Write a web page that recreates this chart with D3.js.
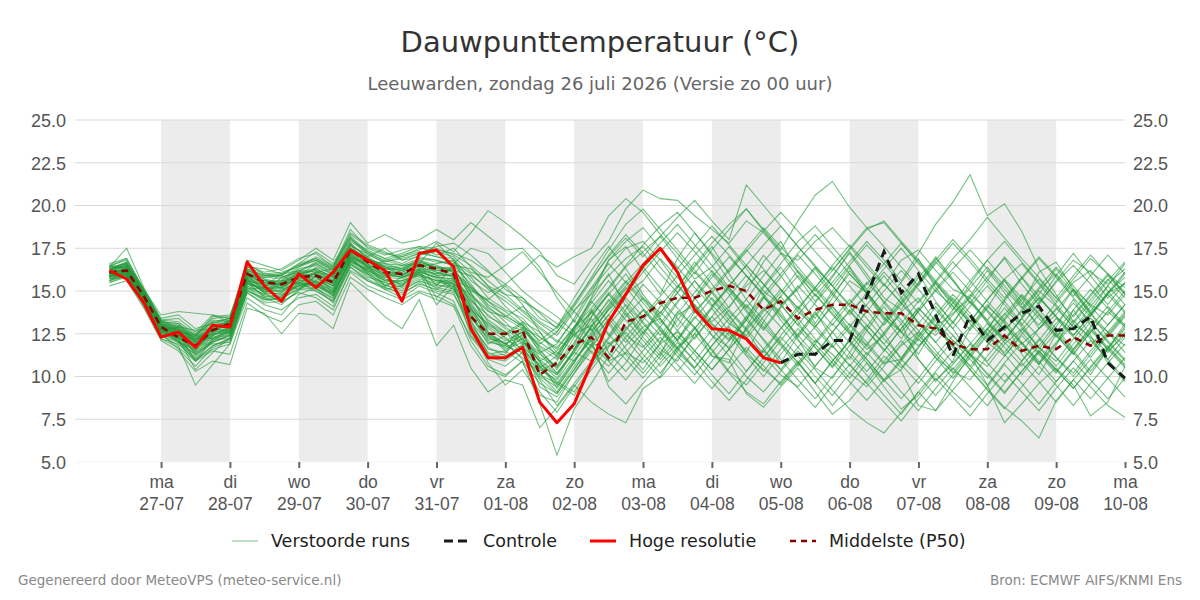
<!DOCTYPE html>
<html>
<head>
<meta charset="utf-8">
<script src="https://cdn.jsdelivr.net/npm/d3@7"></script>
<style>
  body { margin: 0; background: #fff; font-family: "DejaVu Sans", sans-serif; }
</style>
</head>
<body>
<div id="chart"></div>
<script>
// Tijdas: 6-uurlijkse stappen vanaf zo 26-07 06:00
const startTime = new Date(2026, 6, 26, 6);
const stepHours = 6;

const dayNames = ["zo", "ma", "di", "wo", "do", "vr", "za"];
const yTicks = [5, 7.5, 10, 12.5, 15, 17.5, 20, 22.5, 25];
const shadedDays = ["2026-07-27", "2026-07-29", "2026-07-31", "2026-08-02", "2026-08-04", "2026-08-06", "2026-08-08"];

// Hoge resolutie (tot 05-08 00:00)
const hoogRes = [16.2,15.7,14.3,12.3,12.6,11.7,13.0,12.9,16.7,15.3, 14.4,16.0,15.2,16.1,17.4,16.8,16.2,14.4,17.2,17.4,
  16.4,12.8,11.1,11.1,11.7,8.5,7.3,8.4,10.8,13.2, 14.8,16.5,17.5,16.1,13.9,12.8,12.7,12.2,11.1,10.8];

// Controle (zichtbaar vanaf 05-08 00:00)
const controle = [null,null,null,null,null,null,null,null,null,null, null,null,null,null,null,null,null,null,null,null,
  null,null,null,null,null,null,null,null,null,null, null,null,null,null,null,null,null,null,null,10.8,
  11.3,11.3,12.1,12.1,14.7,17.3,14.9,16.0,13.6,11.2, 13.6,12.1,12.9,13.7,14.1,12.7,12.8,13.5,10.8,9.9];

// Middelste (P50)
const mediaan = [16.1,16.2,14.7,12.9,12.3,11.8,12.7,13.1,16.0,15.5, 15.4,15.8,15.9,15.5,17.4,16.7,16.1,16.0,16.5,16.3,
  16.0,13.5,12.5,12.5,12.7,10.1,10.8,11.9,12.3,11.1, 13.2,13.5,14.3,14.6,14.6,15.0,15.3,15.0,13.9,14.4,
  13.4,13.9,14.2,14.2,13.8,13.7,13.7,13.0,12.8,11.9, 11.6,11.6,12.4,11.5,11.8,11.6,12.3,11.8,12.4,12.4];

// Verstoorde runs (ensembleleden)
const leden = [
  [16.3,16.6,14.8,13.1,12.6,12.0,12.9,13.2,16.2,15.7,15.1,15.9,16.3,15.8,17.8,16.9,16.4,16.2,16.8,16.5,16.1,14.2,12.8,12.1,12.6,10.4,9.8,11.2,12.6,13.9,14.8,15.6,16.9,15.8,14.6,13.2,14.1,15.3,16.2,15.1,13.8,12.9,14.2,15.6,14.9,13.4,12.6,11.8,12.9,13.7,14.6,13.1,12.2,11.4,12.8,13.9,15.1,14.2,13.6,14.8],
  [15.9,16.0,14.4,12.6,12.9,11.2,12.1,12.7,15.6,15.0,14.8,15.3,15.6,15.2,17.1,16.4,15.7,15.4,16.1,15.8,15.2,12.9,11.4,11.0,11.9,9.4,8.8,10.2,11.5,10.6,11.8,12.9,13.4,12.1,13.8,14.9,13.6,12.2,11.4,12.8,13.9,15.2,14.1,12.7,11.6,12.4,13.8,14.6,13.2,12.1,11.3,10.6,11.9,12.8,11.7,10.9,12.2,13.4,12.6,11.8],
  [16.4,16.9,15.0,13.3,13.2,12.5,13.4,13.5,16.6,16.0,16.1,16.4,17.0,16.5,18.1,17.2,16.8,17.1,17.4,17.9,17.3,18.4,19.7,19.0,18.2,17.3,15.9,15.4,16.8,17.9,19.8,20.9,20.4,20.3,19.4,18.6,17.8,19.1,18.4,17.2,16.8,17.9,18.7,17.6,16.4,15.3,16.8,17.4,16.2,15.1,14.6,15.8,16.9,15.4,14.2,15.6,16.8,16.1,15.4,16.3],
  [16.0,15.8,14.2,12.4,11.8,9.5,10.7,11.9,14.6,13.9,13.6,14.8,15.2,14.3,16.4,15.6,15.1,14.6,15.3,14.9,14.4,12.1,10.6,10.1,10.9,8.4,5.4,8.1,9.6,11.2,12.8,13.9,12.7,11.4,10.5,11.8,12.9,11.3,10.4,9.6,10.8,12.1,11.3,10.2,9.4,10.6,11.8,12.6,11.1,10.3,9.8,11.2,12.4,11.6,10.7,11.9,13.1,12.3,11.4,12.6],
  [15.6,16.2,14.5,12.8,12.1,11.5,12.3,12.4,15.3,14.8,15.6,16.2,15.4,14.8,16.9,16.1,15.3,15.6,16.0,15.1,15.7,13.6,11.9,12.4,13.1,11.6,10.4,11.9,13.8,15.1,16.4,17.3,18.2,16.9,15.7,16.4,17.6,16.3,15.0,14.2,15.1,16.3,14.9,13.8,14.7,15.9,14.6,13.1,12.4,13.6,14.8,13.9,12.7,13.8,15.0,14.1,12.9,13.7,14.9,15.4],
  [16.2,16.4,14.9,13.0,12.4,12.2,12.6,13.3,16.0,15.8,15.9,15.4,16.1,15.9,17.6,17.2,16.6,16.5,16.9,16.8,16.5,15.4,14.1,13.2,12.1,10.9,9.3,10.8,12.4,13.6,12.4,11.7,12.9,14.3,15.6,14.2,13.1,12.4,13.8,14.9,16.2,15.1,13.9,12.6,11.8,13.2,14.4,15.8,16.9,15.6,14.3,13.2,12.1,13.4,14.6,13.5,12.7,14.1,15.3,14.2],
  [16.5,16.8,15.1,13.4,13.6,12.8,13.1,13.4,16.4,16.3,16.0,16.5,16.8,16.3,18.4,17.7,17.3,16.8,17.2,17.6,17.8,17.1,16.2,15.1,14.4,13.8,13.1,12.4,11.8,10.9,11.4,10.8,11.9,12.6,11.5,10.4,11.6,12.7,11.2,10.1,9.4,10.6,11.8,10.7,9.6,10.9,12.1,11.0,9.8,10.7,11.9,10.8,9.7,10.9,12.2,11.1,10.2,11.5,12.6,11.4],
  [15.8,15.9,14.3,12.5,12.3,11.6,12.8,12.6,15.8,15.1,15.2,15.9,15.8,15.1,17.0,16.6,16.0,15.8,16.2,16.0,16.3,13.1,11.6,11.4,12.3,10.2,9.1,10.6,11.9,9.7,10.8,12.4,14.1,15.3,14.2,13.1,12.2,13.5,14.7,13.3,12.1,11.2,12.6,13.9,12.7,11.6,10.5,11.7,13.0,14.3,13.1,12.0,11.2,12.5,13.6,12.4,11.3,12.6,13.8,12.9],
  [16.1,16.3,14.7,13.2,12.7,12.1,12.9,13.1,15.5,14.6,14.2,15.1,15.6,14.7,16.8,16.2,15.8,16.1,16.5,15.9,15.4,14.8,13.9,12.9,12.2,11.4,11.9,13.4,15.1,16.3,17.5,17.9,16.8,15.4,14.1,13.0,12.1,13.3,14.6,15.8,17.1,16.0,14.8,13.6,14.9,16.1,15.0,13.7,12.6,13.9,15.2,16.4,15.3,14.1,13.0,14.3,15.5,16.2,15.0,13.8],
  [15.7,16.1,14.6,12.7,12.2,10.4,11.4,12.3,15.1,14.4,14.6,15.5,15.0,14.4,16.6,15.8,15.5,15.2,15.7,15.4,15.8,13.4,12.3,11.8,11.4,9.8,8.3,9.6,10.9,11.8,12.6,11.3,10.2,11.5,12.8,11.6,10.3,9.5,10.8,12.1,13.4,12.2,11.0,9.9,11.2,12.5,13.7,12.4,11.3,10.2,11.5,12.8,14.0,12.9,11.7,10.6,11.9,13.2,12.1,11.0],
  [16.3,16.5,14.9,13.0,12.5,11.8,12.4,12.9,16.1,15.6,15.3,15.8,16.0,15.6,17.4,16.8,16.2,15.9,16.6,16.1,15.9,14.5,13.3,12.6,11.9,10.6,9.6,8.9,10.4,11.7,12.9,11.8,10.6,11.7,12.9,11.5,10.2,9.1,8.4,9.7,10.9,9.6,8.3,9.5,10.8,9.4,8.1,8.9,10.2,9.1,8.2,9.4,10.7,9.6,8.4,9.7,10.9,9.8,8.7,9.9],
  [16.0,16.2,14.5,12.9,12.8,12.4,13.2,13.0,15.9,15.5,15.6,15.7,16.4,16.0,17.5,16.9,16.5,16.3,16.7,16.4,16.2,15.9,15.2,14.6,13.8,12.9,12.1,11.6,12.9,14.2,15.5,16.6,17.8,18.9,17.7,16.5,15.2,14.0,15.3,16.6,17.9,18.8,17.6,16.4,15.1,16.3,17.5,16.2,15.0,14.1,13.2,14.5,15.7,16.6,15.4,14.2,13.1,14.3,15.6,16.7],
  [15.9,16.0,14.4,12.8,12.0,11.3,12.0,12.5,15.4,15.2,14.9,15.6,15.3,14.9,16.7,16.3,15.6,15.4,15.9,15.6,15.5,14.0,12.6,11.9,12.6,11.1,10.6,12.3,13.9,12.5,11.3,10.2,11.4,12.7,13.9,12.8,11.6,10.3,11.6,12.8,14.1,13.0,11.8,10.6,11.9,13.1,14.3,13.2,12.0,10.8,11.9,13.1,12.0,10.9,12.1,13.4,12.3,11.1,12.4,13.6],
  [16.2,16.7,15.0,13.1,12.7,12.3,12.7,13.1,16.3,15.9,15.8,16.2,16.6,16.1,17.9,17.3,16.7,17.0,17.3,17.0,16.9,15.6,14.9,15.4,16.2,17.1,16.4,17.0,17.5,19.4,20.4,19.6,18.3,17.2,16.0,17.4,18.6,19.8,18.5,17.3,16.1,15.0,16.2,17.5,18.7,19.0,17.8,16.6,15.4,14.3,15.6,16.8,17.9,16.7,15.5,14.4,15.7,16.9,16.0,15.2],
  [15.5,15.9,14.2,12.2,11.9,11.0,11.6,11.9,14.9,14.2,13.9,14.6,14.8,14.1,16.1,15.3,14.9,14.5,15.0,14.7,14.2,12.3,11.1,10.9,11.7,10.9,10.1,11.6,12.8,10.9,9.8,11.1,12.3,11.2,10.1,11.4,12.6,11.5,10.3,11.6,12.8,11.7,10.5,11.8,13.0,11.9,10.7,9.6,10.9,12.1,11.0,9.9,11.2,12.4,11.3,10.2,11.5,12.7,11.6,10.5],
  [16.4,17.5,15.2,13.3,13.4,12.6,13.6,13.2,16.5,16.1,16.3,16.9,17.2,16.4,18.6,17.5,17.1,17.4,17.6,17.1,17.5,16.4,15.3,14.1,13.2,12.6,11.4,10.9,12.2,13.3,14.6,13.5,12.4,13.7,14.9,16.2,15.1,13.9,12.8,14.1,15.3,14.2,13.0,14.3,15.5,14.4,13.3,12.1,13.4,14.6,13.5,12.4,13.6,14.8,13.7,12.6,13.9,15.1,14.0,12.9],
  [15.8,16.1,14.6,12.7,12.5,10.9,12.2,12.8,15.7,14.9,14.3,15.0,15.9,15.4,17.2,16.4,15.9,15.3,16.2,15.7,15.1,13.8,12.4,11.5,10.8,9.1,7.9,9.4,10.8,12.2,13.5,14.6,13.4,12.1,10.9,12.2,13.4,14.5,13.3,12.0,10.8,9.6,10.9,12.1,11.0,9.8,8.7,9.9,11.2,12.4,11.3,10.1,9.0,10.3,11.5,10.4,9.3,10.6,11.8,10.7],
  [16.1,16.4,14.8,13.0,13.0,12.2,12.5,13.3,15.8,15.3,15.5,16.0,16.2,15.7,17.3,16.6,16.1,16.0,16.3,16.2,16.0,14.9,13.5,13.0,12.7,11.8,11.2,12.7,14.3,15.6,14.4,13.2,12.0,13.3,14.5,15.8,17.0,15.9,14.7,13.5,12.3,13.6,14.8,16.0,14.9,13.7,12.6,13.8,15.0,16.1,15.0,13.8,12.7,13.9,15.1,16.0,14.9,13.7,12.6,13.8],
  [16.0,16.3,14.7,12.9,12.3,11.7,12.4,12.8,15.6,15.0,15.0,15.6,15.7,15.3,17.0,16.5,15.9,16.2,16.4,16.6,16.8,15.2,14.0,13.4,12.8,11.9,12.6,13.9,14.8,15.9,16.9,17.6,16.4,15.2,16.5,17.8,18.9,19.8,18.6,17.4,19.1,20.6,21.4,19.9,18.7,17.6,16.4,15.3,16.6,17.8,16.7,15.5,14.4,15.7,16.9,15.8,14.6,13.5,14.8,16.0],
  [16.3,16.6,14.9,13.2,12.9,12.0,12.8,13.0,16.0,15.6,15.6,16.3,16.5,15.9,17.7,17.0,16.4,16.4,16.8,16.3,16.4,14.6,13.2,12.2,11.6,10.7,10.1,11.4,12.9,14.1,15.3,16.4,15.2,14.0,12.8,14.1,15.3,16.5,15.4,14.2,13.0,14.3,15.5,16.7,17.9,16.8,15.6,17.2,18.9,20.2,21.8,19.4,20.1,18.5,16.3,14.8,13.2,14.5,15.7,14.6],
  [15.6,16.0,14.3,12.5,11.6,10.6,11.7,12.1,14.9,14.3,14.4,14.9,14.6,13.9,16.2,15.6,15.2,14.8,15.5,15.0,14.8,13.0,11.7,11.2,11.8,10.1,9.6,11.0,12.1,9.4,8.4,9.6,10.8,12.0,10.9,9.7,8.6,9.8,11.1,12.3,11.2,10.0,8.9,10.2,11.4,10.3,9.1,8.0,9.3,10.5,9.4,8.3,9.6,10.8,9.7,8.5,9.8,11.0,9.9,8.8],
  [16.2,16.5,14.8,13.1,12.8,12.3,13.1,13.4,16.2,15.8,15.7,16.4,16.8,16.2,18.0,17.4,16.9,16.6,17.1,17.3,17.0,16.1,15.8,16.5,17.3,16.1,14.9,13.8,12.7,13.9,15.1,16.3,17.5,16.4,15.2,14.1,15.3,16.5,17.7,18.8,17.6,16.5,15.3,14.2,15.4,16.6,17.8,16.7,15.5,14.4,13.2,14.5,15.7,14.6,13.4,12.3,13.6,14.8,16.0,14.9],
  [15.9,15.9,14.5,12.7,12.4,11.4,12.2,12.7,15.5,14.7,14.7,15.4,15.5,15.0,16.8,16.2,15.6,15.6,16.0,15.6,15.6,13.3,11.3,11.5,12.5,10.8,9.9,11.6,13.5,14.9,13.8,12.6,11.4,10.3,11.5,12.7,13.9,12.8,11.6,10.4,11.7,12.9,14.1,13.0,11.8,10.7,11.9,13.1,14.3,13.2,12.0,10.9,12.1,13.4,12.3,11.1,10.0,11.3,12.5,13.7],
  [16.1,16.2,14.6,12.9,12.6,12.1,12.7,12.8,15.9,15.4,15.4,15.9,16.0,15.5,17.3,16.8,16.3,16.1,16.5,16.2,16.2,15.0,14.5,15.3,14.2,12.6,11.1,12.8,14.6,16.8,17.9,18.7,17.5,16.3,17.6,18.8,17.7,16.5,15.4,14.2,13.0,12.0,13.3,14.5,13.4,12.2,11.1,12.4,13.6,14.8,13.7,12.5,11.4,12.7,13.9,12.8,11.6,12.9,14.1,13.0],
  [15.7,15.8,14.3,12.6,12.2,11.8,12.5,12.5,15.2,14.5,14.5,15.2,15.1,14.6,16.5,16.0,15.4,15.0,15.6,15.3,15.3,12.8,10.8,9.5,10.4,8.9,8.5,10.2,11.7,13.0,14.2,13.1,11.9,10.7,9.6,10.9,12.1,13.3,12.2,11.0,9.8,8.7,10.0,11.2,10.1,8.9,7.8,9.1,10.3,11.5,10.4,9.2,8.1,9.4,10.6,9.5,8.3,9.6,10.8,9.7],
  [16.3,16.7,15.0,13.2,13.1,12.4,13.3,13.2,16.4,16.0,15.9,16.6,16.9,16.4,18.2,17.3,16.9,17.2,17.6,17.5,17.1,16.5,15.6,14.8,13.9,13.1,12.4,13.8,15.2,16.6,15.5,14.3,13.1,14.4,15.6,14.5,13.3,12.2,13.5,14.7,15.9,14.8,13.6,12.5,13.8,15.0,16.2,15.1,13.9,12.8,14.1,15.3,14.2,13.0,14.3,15.5,16.5,15.4,14.2,15.5],
  [15.9,16.1,14.5,12.8,12.2,11.1,12.0,12.4,15.3,14.8,14.9,15.5,15.3,14.8,16.8,16.1,15.6,15.6,15.9,15.5,15.4,13.5,12.2,12.0,11.0,10.3,10.9,12.6,11.4,10.2,11.4,12.6,13.8,12.7,11.5,10.4,11.6,12.8,14.0,12.9,11.7,10.6,11.9,13.1,12.0,10.8,11.0,12.3,13.5,12.4,11.2,12.5,13.7,12.6,11.4,10.3,11.6,12.8,11.7,12.9],
  [16.4,16.4,14.9,13.1,12.9,12.4,13.5,13.6,16.1,15.7,15.5,16.1,16.7,16.2,17.5,16.8,16.6,16.3,16.9,16.7,16.6,15.8,14.6,13.9,13.4,12.3,11.7,12.9,14.0,15.2,16.5,17.7,18.8,19.6,18.4,17.2,16.1,17.3,18.5,19.6,18.5,17.3,16.2,17.4,18.6,19.1,17.9,16.8,15.6,16.9,18.0,19.3,18.1,16.9,15.8,14.6,15.9,17.1,16.0,14.8],
  [15.8,16.0,14.4,12.6,12.0,11.6,12.3,12.6,15.4,15.1,15.1,15.5,15.6,15.1,17.0,16.3,15.8,15.7,16.1,15.8,15.7,14.1,12.9,12.3,11.3,9.9,9.0,10.4,11.9,13.4,12.2,11.0,9.9,11.1,12.3,13.5,12.4,11.2,10.0,11.3,12.5,13.7,12.6,11.4,10.3,11.5,12.8,14.0,12.9,11.7,10.6,11.8,13.0,11.9,10.8,12.0,13.3,12.2,11.0,12.3],
  [16.2,16.5,14.8,13.0,12.7,12.3,12.9,13.2,16.0,15.6,15.5,16.1,16.3,15.8,17.5,16.9,16.3,16.3,16.7,16.4,16.3,14.7,13.8,13.5,14.1,13.2,12.6,14.1,15.6,17.1,18.3,17.2,16.0,14.9,13.7,14.9,16.2,17.4,16.3,15.1,14.0,15.2,16.4,15.3,14.1,13.0,14.2,15.4,16.7,15.6,14.4,13.3,14.5,15.8,14.7,13.5,12.4,13.6,14.9,16.1],
  [15.6,15.9,14.3,12.4,12.0,10.9,11.8,12.2,15.0,14.6,14.6,15.3,15.2,14.5,16.6,15.9,15.3,15.1,15.6,15.2,15.0,13.9,13.1,12.6,11.5,10.6,9.7,9.1,10.6,12.0,11.0,9.9,11.2,12.4,11.3,10.1,9.0,10.3,11.5,10.4,9.3,8.2,9.5,10.7,9.6,8.5,7.4,8.7,9.9,8.8,7.7,9.0,10.2,9.1,8.0,9.3,10.5,9.4,8.3,7.6],
  [16.0,16.3,14.6,12.9,12.5,11.9,12.5,12.9,15.7,15.2,15.2,15.8,16.0,15.4,17.2,16.6,16.0,15.9,16.3,16.0,15.9,14.3,13.0,12.5,13.2,12.0,11.3,12.9,14.4,13.2,12.0,13.3,14.5,13.4,12.2,13.5,14.7,15.9,14.8,13.6,12.4,11.3,12.6,13.8,12.7,11.5,12.8,14.0,13.0,11.8,12.9,14.2,13.1,11.9,12.8,14.0,12.9,11.8,13.0,14.2],
  [16.3,16.6,15.0,13.3,12.8,12.2,13.0,13.3,16.2,15.9,15.9,16.5,16.9,16.3,18.1,17.1,16.7,16.9,17.2,17.0,16.7,16.0,15.1,14.4,13.6,12.8,12.0,13.3,12.1,11.0,12.3,13.5,14.7,15.9,17.1,18.2,17.1,15.9,14.8,16.0,17.2,18.3,17.2,16.0,14.9,13.7,12.6,13.8,15.1,16.3,17.4,16.3,15.1,14.0,15.2,16.4,15.3,14.1,13.0,14.2],
  [15.9,16.0,14.5,12.7,12.3,11.4,12.1,12.6,15.6,14.9,14.8,15.3,15.4,14.9,16.9,16.2,15.7,15.5,16.0,15.6,15.4,12.4,11.2,11.3,12.8,11.5,10.5,11.8,13.2,14.4,15.6,14.5,13.3,12.1,13.4,14.6,13.5,12.3,11.1,12.4,13.6,14.8,13.7,12.5,11.3,12.6,13.8,12.7,11.5,10.4,11.6,12.8,11.7,10.6,11.8,13.1,14.3,13.2,12.0,10.9],
  [16.1,16.3,14.7,13.0,12.6,12.0,12.7,13.0,15.8,15.3,15.3,15.8,16.1,15.6,17.4,16.7,16.2,16.0,16.4,16.1,15.8,13.7,12.1,11.7,12.2,10.5,9.5,10.9,12.3,13.6,14.9,16.1,17.3,18.4,17.3,16.1,15.0,13.8,12.7,14.0,15.2,16.4,15.3,14.1,13.0,11.9,13.1,14.4,15.6,14.5,13.3,12.2,13.4,14.7,13.6,12.4,11.3,12.6,13.8,15.0],
  [15.8,16.2,14.6,12.6,12.4,11.8,12.6,12.7,15.5,15.0,15.0,15.6,15.8,15.3,17.1,16.4,15.9,15.8,16.2,15.8,15.7,14.4,13.6,12.8,12.0,11.3,10.6,12.0,13.4,11.4,10.3,11.5,12.7,11.6,10.4,9.3,10.5,11.7,10.6,9.5,10.7,11.9,10.8,9.7,8.6,9.8,11.0,10.0,8.9,10.1,11.3,10.2,9.1,10.3,11.5,10.4,9.3,10.5,11.7,10.6],
  [16.2,16.4,14.8,12.9,12.7,12.2,12.8,13.1,16.1,15.5,15.4,16.0,16.2,15.6,17.4,16.8,16.3,16.2,16.6,16.3,16.1,15.3,14.2,13.6,12.9,12.3,11.6,12.9,13.7,14.8,13.6,12.5,13.7,14.9,16.1,15.0,13.8,12.7,13.9,15.1,14.0,12.8,11.7,12.9,14.2,15.4,14.3,13.1,12.0,13.2,14.4,13.3,12.2,13.4,14.6,13.5,12.4,13.6,14.8,13.7],
  [15.9,16.1,14.4,12.7,12.1,11.3,12.0,12.4,15.2,14.7,14.7,15.4,15.3,14.7,16.7,16.0,15.5,15.3,15.8,15.4,15.1,13.2,12.0,11.8,12.9,11.7,11.0,12.5,13.0,11.9,12.7,13.9,12.8,11.6,12.8,14.0,15.2,14.1,12.9,11.8,10.6,11.9,13.1,12.0,10.8,9.7,10.9,12.2,11.1,9.9,11.1,12.4,11.3,10.1,11.4,12.6,11.5,10.3,11.6,12.8],
  [16.4,16.6,15.0,13.2,13.0,12.4,13.2,13.4,16.3,15.9,16.0,16.6,17.3,16.6,18.3,17.6,17.2,17.0,17.5,17.4,17.2,16.8,16.1,15.4,14.6,13.7,12.8,14.2,15.8,17.4,18.9,19.8,18.6,17.4,16.2,15.1,16.3,17.5,18.7,17.6,16.4,15.2,16.5,17.7,16.6,15.4,14.3,15.5,16.8,18.0,16.9,15.7,14.6,15.8,17.0,15.9,14.7,15.9,17.1,16.0],
  [15.7,15.9,14.4,12.5,12.1,11.0,11.8,12.2,15.0,14.5,14.6,15.1,15.0,14.4,16.4,15.7,15.2,14.9,15.4,15.1,14.9,12.6,11.0,10.6,11.4,10.0,9.4,10.8,12.5,14.0,15.2,14.0,12.9,11.7,10.5,11.8,13.0,14.2,13.1,11.9,10.8,9.6,10.9,12.1,11.0,9.8,10.4,11.7,12.9,11.8,10.6,9.5,10.8,12.0,10.9,9.7,10.9,12.1,11.0,9.8],
  [16.0,16.2,14.6,12.8,12.4,11.7,12.4,12.8,15.7,15.1,15.2,15.7,15.9,15.3,17.2,16.5,16.0,15.8,16.3,15.9,15.9,14.0,12.5,11.9,12.4,11.0,10.2,11.5,13.0,14.5,13.3,12.1,11.0,12.2,13.5,12.4,11.2,10.0,9.1,10.3,11.5,10.4,9.2,8.1,7.3,6.7,7.9,9.1,8.0,9.2,10.4,9.3,8.2,7.4,6.4,8.6,9.8,8.7,9.9,11.1],
  [16.2,16.5,14.9,13.0,12.7,12.1,12.9,13.1,15.9,15.5,15.4,16.0,16.3,15.8,17.5,16.9,16.4,16.2,16.6,16.4,16.2,15.1,14.4,13.8,13.0,12.1,12.9,14.3,15.7,17.0,18.1,17.0,18.2,19.3,20.3,19.1,18.0,21.2,20.0,18.8,17.6,16.4,15.3,16.5,17.7,16.6,15.4,14.3,15.5,16.7,15.6,14.4,13.3,14.5,15.7,14.6,13.5,14.7,15.9,14.8],
  [15.5,15.8,14.1,12.2,11.7,10.9,11.5,11.3,14.3,13.6,13.2,14.2,14.4,13.6,15.8,15.1,14.6,14.2,14.9,14.5,14.1,11.8,10.4,10.0,10.9,9.6,9.0,10.4,11.8,13.1,11.6,10.4,12.0,13.8,12.9,11.2,10.8,12.9,14.6,13.8,12.2,10.5,9.9,11.4,12.9,14.3,13.1,11.0,9.7,10.9,12.8,14.1,13.2,11.3,10.1,11.8,13.9,12.4,10.8,11.9],
  [16.6,16.9,15.1,13.6,13.8,13.7,13.6,13.4,16.8,16.5,16.2,16.8,17.5,16.8,19.0,17.8,18.3,17.8,18.0,18.6,18.0,19.0,18.2,17.4,17.5,16.4,14.6,13.2,14.9,16.8,17.6,16.2,14.8,16.9,18.4,17.1,15.6,14.9,16.7,17.9,16.1,14.7,15.9,17.2,15.8,14.3,15.5,16.9,15.2,13.9,15.4,16.8,15.6,14.2,16.1,16.7,15.1,13.8,15.3,16.6],
  [15.3,15.6,14.0,12.1,11.5,10.3,10.9,10.7,14.0,13.7,12.5,13.7,13.6,12.8,15.5,14.5,13.5,12.8,14.5,11.8,13.0,10.5,9.1,9.8,9.5,7.0,8.2,9.5,8.5,7.8,7.3,9.3,10.0,11.7,12.5,11.2,11.0,9.0,8.2,9.4,10.5,9.1,7.8,8.6,9.8,11.2,10.3,8.3,8.0,9.7,11.3,9.5,7.3,8.4,9.6,10.5,9.5,7.7,8.5,10.6],
  [16.0,16.3,14.6,12.8,12.9,12.7,12.8,12.9,15.6,14.9,15.8,16.1,15.5,15.0,17.3,16.8,16.4,15.9,16.5,15.3,16.6,17.5,17.2,16.1,15.0,14.2,13.5,12.6,13.8,12.4,13.9,15.4,14.3,12.9,14.6,16.0,14.8,13.3,15.2,16.4,14.9,13.1,14.6,16.2,15.0,13.5,12.2,13.9,15.5,14.1,12.7,14.0,15.6,14.4,12.8,13.6,15.1,13.7,12.3,13.5],
  [16.2,16.0,14.7,13.0,12.3,11.5,12.8,13.3,15.9,15.1,15.0,15.7,15.4,15.6,17.0,16.0,15.1,15.3,16.3,14.6,15.6,15.2,14.4,13.5,13.0,11.4,10.2,11.4,10.9,12.3,13.7,12.3,11.2,13.6,14.2,12.4,11.7,13.5,12.1,10.8,12.4,13.8,12.2,11.0,12.7,14.1,12.6,11.3,13.0,11.9,10.4,11.8,13.3,12.0,10.7,12.5,11.4,10.1,11.6,13.1],
  [15.8,16.4,14.8,12.9,12.6,11.9,11.9,12.0,15.1,15.2,15.3,15.9,16.6,16.0,17.8,16.3,16.8,16.5,16.6,17.8,16.8,14.9,12.6,11.6,12.0,10.9,11.5,12.4,13.5,14.8,16.0,14.6,13.7,15.2,16.7,15.4,14.0,15.5,17.1,15.9,14.5,13.4,15.0,16.4,14.8,13.3,14.6,16.0,14.4,13.1,14.7,16.2,14.9,13.5,14.8,16.3,15.0,13.6,14.9,15.8],
  [16.1,16.1,14.5,12.7,12.6,12.4,12.2,12.2,15.6,15.4,15.4,15.1,15.9,14.9,16.9,16.5,15.3,15.8,16.1,14.2,15.3,13.9,12.4,11.9,11.1,10.5,11.2,12.8,14.5,16.0,14.1,12.8,11.6,10.9,12.5,14.0,12.6,11.4,13.2,14.7,13.2,11.7,10.6,12.2,13.9,12.5,11.0,12.6,14.1,12.8,11.3,12.7,14.4,13.1,11.6,12.9,14.5,13.0,11.5,12.4],
  [16.5,16.3,14.9,13.2,13.1,12.0,12.5,12.6,16.1,15.3,16.0,16.2,16.1,16.3,17.7,17.0,17.5,16.8,17.0,16.8,16.5,16.3,15.3,14.8,14.6,13.4,12.9,14.6,16.2,17.6,16.3,14.8,13.5,14.9,16.4,17.6,16.0,14.5,15.9,17.2,15.8,14.4,15.8,17.3,16.0,14.6,13.9,15.4,17.0,15.7,14.3,15.6,17.0,15.8,14.4,15.9,17.2,15.9,14.6,15.5]
];

const width = 1200;
const height = 600;
const margin = { top: 120, right: 75, bottom: 138, left: 75 };
const graphWidth = width - margin.left - margin.right;
const graphHeight = height - margin.top - margin.bottom;

const tijd = (i) => new Date(startTime.getTime() + i * stepHours * 3600 * 1000);

// Schalen
const x = d3.scaleTime()
  .domain([new Date(2026, 6, 25, 18), new Date(2026, 7, 10, 0)])
  .range([0, graphWidth]);

const y = d3.scaleLinear()
  .domain([5, 25])
  .range([graphHeight, 0]);

const svg = d3.select("#chart")
  .append("svg")
  .attr("width", width)
  .attr("height", height)
  .style("font-family", "'DejaVu Sans', sans-serif");

// Titels
svg.append("text")
  .attr("x", width / 2).attr("y", 52)
  .attr("text-anchor", "middle")
  .style("font-size", "29px").style("fill", "#333")
  .text("Dauwpunttemperatuur (°C)");

svg.append("text")
  .attr("x", width / 2).attr("y", 90)
  .attr("text-anchor", "middle")
  .style("font-size", "18px").style("fill", "#666")
  .text("Leeuwarden, zondag 26 juli 2026 (Versie zo 00 uur)");

const g = svg.append("g")
  .attr("transform", `translate(${margin.left},${margin.top})`);

// Grijze banden om de dag
const parseDag = d3.timeParse("%Y-%m-%d");
g.selectAll(".band")
  .data(shadedDays)
  .enter()
  .append("rect")
  .attr("class", "band")
  .attr("x", (d) => x(parseDag(d)))
  .attr("y", 0)
  .attr("width", (d) => x(d3.timeDay.offset(parseDag(d), 1)) - x(parseDag(d)))
  .attr("height", graphHeight)
  .style("fill", "#ececec");

// Rasterlijnen
g.selectAll(".grid")
  .data(yTicks)
  .enter()
  .append("line")
  .attr("x1", 0).attr("x2", graphWidth)
  .attr("y1", (d) => y(d)).attr("y2", (d) => y(d))
  .style("stroke", (d) => (d === 5 ? "#f4f4f4" : "#d9d9d9"))
  .style("stroke-width", 1);

// Y-assen links en rechts
const fmt = d3.format(".1f");
const yLeft = g.append("g")
  .call(d3.axisLeft(y).tickValues(yTicks).tickFormat(fmt).tickSize(0).tickPadding(9));
const yRight = g.append("g")
  .attr("transform", `translate(${graphWidth},0)`)
  .call(d3.axisRight(y).tickValues(yTicks).tickFormat(fmt).tickSize(0).tickPadding(8));
[yLeft, yRight].forEach((a) => {
  a.select(".domain").remove();
  a.selectAll("text").style("font-size", "18px").style("fill", "#555")
    .attr("dy", "0.35em");
});

// X-as met dagnamen en data
const dagen = d3.timeDay.range(new Date(2026, 6, 27), new Date(2026, 7, 10, 1));
const xAxis = g.append("g")
  .attr("transform", `translate(0,${graphHeight})`)
  .call(d3.axisBottom(x).tickValues(dagen).tickSize(6).tickFormat(""));
xAxis.select(".domain").remove();
xAxis.selectAll(".tick line").style("stroke", "#666").style("stroke-width", 2);
xAxis.selectAll(".tick")
  .append("text")
  .attr("text-anchor", "middle")
  .style("font-size", "17.5px").style("fill", "#555")
  .each(function (d) {
    const t = d3.select(this);
    t.append("tspan").attr("x", 0).attr("y", 26).text(dayNames[d.getDay()]);
    t.append("tspan").attr("x", 0).attr("y", 48).text(d3.timeFormat("%d-%m")(d));
  });

// Lijnen
const lijn = d3.line()
  .defined((d) => d != null)
  .x((d, i) => x(tijd(i)))
  .y((d) => y(d));

g.selectAll(".lid")
  .data(leden)
  .enter()
  .append("path")
  .attr("class", "lid")
  .attr("d", lijn)
  .style("fill", "none")
  .style("stroke", "#239b3a")
  .style("stroke-opacity", 0.62)
  .style("stroke-width", 1.1);

g.append("path")
  .datum(mediaan)
  .attr("d", lijn)
  .style("fill", "none")
  .style("stroke", "#8b0000")
  .style("stroke-width", 2.5)
  .style("stroke-dasharray", "7,5");

g.append("path")
  .datum(controle)
  .attr("d", lijn)
  .style("fill", "none")
  .style("stroke", "#1a1a1a")
  .style("stroke-width", 3)
  .style("stroke-dasharray", "9,6");

g.append("path")
  .datum(hoogRes)
  .attr("d", lijn)
  .style("fill", "none")
  .style("stroke", "#ff0000")
  .style("stroke-width", 3)
  .style("stroke-linejoin", "round");

// Legenda
const legendItems = [
  { label: "Verstoorde runs", x: 232, stroke: "#239b3a", w: 1, dash: null, op: 0.6 },
  { label: "Controle", x: 444, stroke: "#1a1a1a", w: 3, dash: "9,5", op: 1 },
  { label: "Hoge resolutie", x: 590, stroke: "#ff0000", w: 3, dash: null, op: 1 },
  { label: "Middelste (P50)", x: 790, stroke: "#8b0000", w: 2.5, dash: "6,5", op: 1 }
];
const legend = svg.append("g").attr("transform", "translate(0,541)");
legendItems.forEach((it) => {
  legend.append("line")
    .attr("x1", it.x).attr("x2", it.x + 26)
    .attr("y1", 0).attr("y2", 0)
    .style("stroke", it.stroke)
    .style("stroke-width", it.w)
    .style("stroke-opacity", it.op)
    .style("stroke-dasharray", it.dash);
  legend.append("text")
    .attr("x", it.x + 39).attr("y", 0).attr("dy", "0.35em")
    .style("font-size", "17.5px").style("fill", "#222")
    .text(it.label);
});

// Voetteksten
svg.append("text")
  .attr("x", 18).attr("y", 585)
  .style("font-size", "13.5px").style("fill", "#888")
  .text("Gegenereerd door MeteoVPS (meteo-service.nl)");
svg.append("text")
  .attr("x", 1182).attr("y", 585)
  .attr("text-anchor", "end")
  .style("font-size", "13.5px").style("fill", "#888")
  .text("Bron: ECMWF AIFS/KNMI Ens");
</script>
</body>
</html>
